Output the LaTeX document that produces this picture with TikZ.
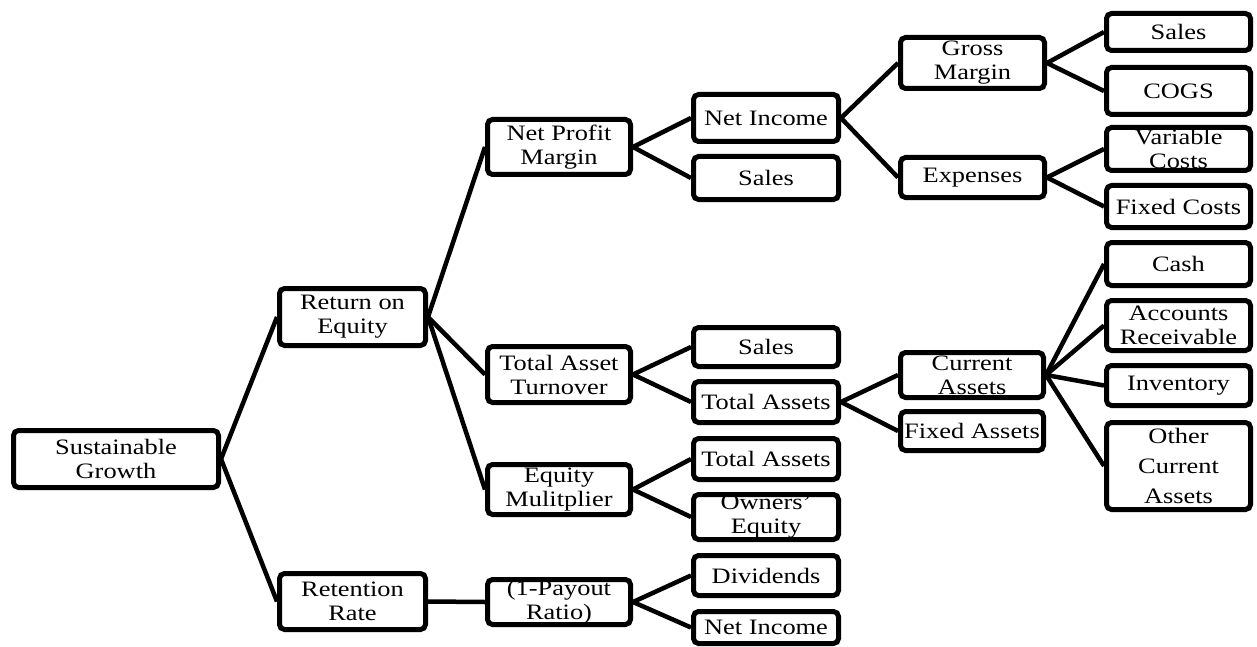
\documentclass[tikz,border=0pt]{standalone}
\usepackage{fontspec}
\setmainfont{Liberation Serif}[FakeStretch=1.2]
\tikzset{
  box/.style={draw=black, line width=5pt, rounded corners=5pt, fill=white,
    inner sep=0pt, align=center, font=\fontsize{22}{24}\selectfont},
  conn/.style={draw=black, line width=4.5pt}
}
\newcommand\bx[6]{\node[box, minimum width={#4-#2-5}, minimum height={#5-#3-5}] (#1) at ({(#2+#4)/2},{(#3+#5)/2}) {#6};}
\begin{document}
\begin{tikzpicture}[x=1pt,y=-1pt]
\useasboundingbox (0,0) rectangle (1257,647);
\fill[white] (0,0) rectangle (1257,647);
% nodes
\bx{sg}{11}{428}{221}{490}{Sustainable\\Growth}
\bx{roe}{277}{286}{428}{348}{Return on\\Equity}
\bx{rr}{277}{571}{428}{632}{Retention\\Rate}
\bx{npm}{485}{117}{633}{177}{Net Profit\\Margin}
\bx{tat}{485}{344}{633}{405}{Total Asset\\Turnover}
\bx{em}{485}{462}{633}{517}{Equity\\Mulitplier}
\bx{po}{485}{577}{633}{627}{(1-Payout\\Ratio)}
\bx{ni}{691}{92}{841}{144}{Net Income}
\bx{sa}{691}{154}{841}{202}{Sales}
\bx{sb}{691}{325}{841}{369}{Sales}
\bx{ta}{691}{379}{841}{425}{Total Assets}
\bx{tb}{691}{436}{841}{482}{Total Assets}
\bx{oe}{691}{492}{841}{542}{Owners'\\Equity}
\bx{dv}{691}{553}{841}{598}{Dividends}
\bx{nb}{691}{609}{841}{646}{Net Income}
\bx{gm}{898}{35}{1047}{91}{Gross\\Margin}
\bx{ex}{898}{155}{1047}{200}{Expenses}
\bx{ca}{898}{350}{1046}{400}{Current\\Assets}
\bx{fa}{898}{409}{1046}{453}{Fixed Assets}
\bx{sc}{1104}{11}{1253}{53}{Sales}
\bx{cogs}{1104}{65}{1253}{117}{COGS}
\bx{vc}{1104}{125}{1253}{173}{Variable\\Costs}
\bx{fc}{1104}{183}{1253}{230}{Fixed Costs}
\bx{cash}{1104}{240}{1253}{288}{Cash}
\bx{ar}{1104}{298}{1253}{353}{Accounts\\Receivable}
\bx{inv}{1104}{363}{1253}{408}{Inventory}
\bx{oca}{1104}{420}{1253}{512}{Other\\[6pt]Current\\[6pt]Assets}
% connectors
\draw[conn] (sg.east) -- (roe.west);
\draw[conn] (sg.east) -- (rr.west);
\draw[conn] (roe.east) -- (npm.west);
\draw[conn] (roe.east) -- (tat.west);
\draw[conn] (roe.east) -- (em.west);
\draw[conn] (rr.east) -- (po.west);
\draw[conn] (npm.east) -- (ni.west);
\draw[conn] (npm.east) -- (sa.west);
\draw[conn] (tat.east) -- (sb.west);
\draw[conn] (tat.east) -- (ta.west);
\draw[conn] (em.east) -- (tb.west);
\draw[conn] (em.east) -- (oe.west);
\draw[conn] (po.east) -- (dv.west);
\draw[conn] (po.east) -- (nb.west);
\draw[conn] (ni.east) -- (gm.west);
\draw[conn] (ni.east) -- (ex.west);
\draw[conn] (ta.east) -- (ca.west);
\draw[conn] (ta.east) -- (fa.west);
\draw[conn] (gm.east) -- (sc.west);
\draw[conn] (gm.east) -- (cogs.west);
\draw[conn] (ex.east) -- (vc.west);
\draw[conn] (ex.east) -- (fc.west);
\draw[conn] (ca.east) -- (cash.west);
\draw[conn] (ca.east) -- (ar.west);
\draw[conn] (ca.east) -- (inv.west);
\draw[conn] (ca.east) -- (oca.west);
\end{tikzpicture}
\end{document}
